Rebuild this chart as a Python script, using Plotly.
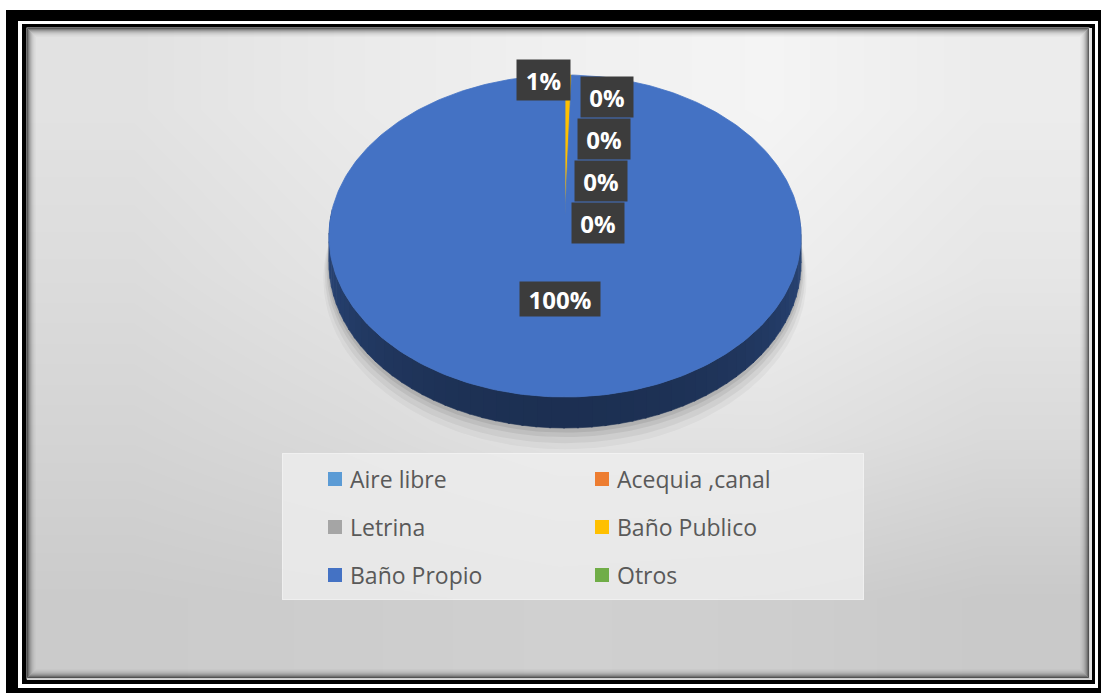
import math
import numpy as np
import plotly.graph_objects as go

# ---- data -------------------------------------------------------------
categories = ["Aire libre", "Acequia ,canal", "Letrina", "Baño Publico", "Baño Propio", "Otros"]
counts = [0, 0, 0, 1, 199, 0]
slice_colors = ["#5B9BD5", "#ED7D31", "#A5A5A5", "#FFC000", "#4472C4", "#70AD47"]

# ---- canvas / geometry --------------------------------------------------
W, H = 1101, 693
CX, CY = 565.0, 215.0          # apex of the pie on screen
RX, RY = 234.0, 158.26         # horizontal / vertical radius of the top face
K = 0.1304                     # perspective strength
DEPTH = 27.0                   # thickness of the disc


def proj(theta_deg, r=1.0, drop=0.0):
    t = np.radians(theta_deg)
    u = r * np.sin(t)
    v = r * np.cos(t)
    s = 1.0 / (1.0 + K * v)
    return CX + RX * u * s, CY - RY * v * s + drop * s


def shade(hex_color, f):
    h = hex_color.lstrip("#")
    r, g, b = (int(h[i:i + 2], 16) for i in (0, 2, 4))
    return f"rgb({int(r * f)},{int(g * f)},{int(b * f)})"


total = float(sum(counts))
pcts = [100.0 * c / total for c in counts]
labels = [f"{int(math.floor(p + 0.5))}%" for p in pcts]
spans = [360.0 * c / total for c in counts]
starts = np.concatenate([[0.0], np.cumsum(spans)[:-1]])

fig = go.Figure()

# ---- background gradient of the chart area ---------------------------
x_cells = [133, 346, 558, 770, 983]
y_cells = [109, 272, 435, 598]
gray = [
    [226, 234, 240, 244, 236],
    [220, 228, 236, 238, 230],
    [212, 218, 226, 226, 218],
    [203, 205, 208, 206, 201],
]
fig.add_trace(go.Heatmap(
    x=x_cells, y=y_cells, z=gray, zmin=0, zmax=255, zsmooth="best",
    colorscale=[[0, "rgb(0,0,0)"], [1, "rgb(255,255,255)"]],
    showscale=False, hoverinfo="skip",
))

# ---- soft shadow under the disc ----------------------------------------
ring = np.linspace(0, 360, 181)
for off, alpha in [(14, 0.035), (10, 0.05), (6, 0.065), (3, 0.08)]:
    sx, sy = proj(ring, 1.0 + off / 600.0, DEPTH + off)
    fig.add_trace(go.Scatter(
        x=sx, y=sy, mode="lines", fill="toself", line=dict(width=0),
        fillcolor=f"rgba(0,0,0,{alpha})", hoverinfo="skip", showlegend=False,
    ))

# ---- side wall of each slice (front half only) -------------------------
for a0, span, col in zip(starts, spans, slice_colors):
    if span <= 0:
        continue
    lo, hi = max(a0, 88.0), min(a0 + span, 272.0)
    if hi <= lo:
        continue
    edges = np.linspace(lo, hi, max(2, int((hi - lo) / 3) + 2))
    for e0, e1 in zip(edges[:-1], edges[1:]):
        seg = np.linspace(e0, e1 + 0.4 if e1 < hi else e1, 4)
        tx, ty = proj(seg)
        bx, by = proj(seg[::-1], 1.0, DEPTH)
        w = abs(math.cos(math.radians((e0 + e1) / 2)))
        c = shade(col, 0.64 - 0.22 * w)
        fig.add_trace(go.Scatter(
            x=np.concatenate([tx, bx]), y=np.concatenate([ty, by]),
            mode="lines", fill="toself", line=dict(width=0.6, color=c),
            fillcolor=c, hoverinfo="skip", showlegend=False,
        ))

# ---- top face ------------------------------------------------------------
for a0, span, col, name in zip(starts, spans, slice_colors, categories):
    if span <= 0:
        continue
    arc = np.linspace(a0, a0 + span, max(3, int(span) + 3))
    ax, ay = proj(arc)
    fig.add_trace(go.Scatter(
        x=np.concatenate([[CX], ax, [CX]]), y=np.concatenate([[CY], ay, [CY]]),
        mode="lines", fill="toself", line=dict(width=0.8, color=col),
        fillcolor=col, name=name, hoverinfo="skip", showlegend=False,
    ))

# ---- frame -----------------------------------------------------------------
shapes = []


def rect(x0, y0, x1, y1, fill, layer="below", line=None):
    d = dict(type="rect", xref="x", yref="y", x0=x0, y0=y0, x1=x1, y1=y1,
             layer=layer, fillcolor=fill, line=dict(width=0))
    if line is not None:
        d["line"] = line
        d["fillcolor"] = "rgba(0,0,0,0)"
    shapes.append(d)


rect(6, 10, 1101, 693, "#000000")
rect(18, 21, 1098, 688, "#ffffff")
rect(22, 24, 1095, 684, "#000000")
rect(27, 28, 1092, 680, "#e2e2e2")

# inner shading along the chart-area border
for i, a in enumerate([0.6, 0.45, 0.33, 0.24, 0.17, 0.11, 0.07, 0.04, 0.02]):
    rect(27.5 + i, 28.5 + i, 1088.5 - i, 677.5 - i, None, layer="above",
         line=dict(width=1, color=f"rgba(0,0,0,{a})"))

# ---- legend ------------------------------------------------------------------
rect(282, 453, 864, 600, "rgba(238,238,238,0.8)", layer="above")
rect(282.5, 453.5, 863.5, 599.5, None, layer="above",
     line=dict(width=1, color="rgba(255,255,255,0.35)"))

annotations = []
col_x = [328, 595]
row_y = [479, 527, 575]
for i, (name, col) in enumerate(zip(categories, slice_colors)):
    mx, my = col_x[i % 2], row_y[i // 2]
    shapes.append(dict(type="rect", xref="x", yref="y", x0=mx, x1=mx + 14,
                       y0=my - 7, y1=my + 7, fillcolor=col, line=dict(width=0),
                       layer="above"))
    annotations.append(dict(
        x=mx + 20, y=my, xref="x", yref="y", text=name, showarrow=False,
        xanchor="left", yanchor="middle",
        font=dict(family="Open Sans", size=23, color="#595959"),
    ))

# ---- data labels ---------------------------------------------------------------
box_font = dict(family="Open Sans", size=24, color="#ffffff", weight="bold")
box_bg = "#3c3c3c"
zero_idx = 0
top_x, top_y = proj(0.0)
for a0, span, txt in zip(starts, spans, labels):
    mid = a0 + span / 2
    if span <= 0:
        lx = float(top_x) + 42 - 3 * zero_idx
        ly = float(top_y) + 22 + 42 * zero_idx
        zero_idx += 1
        annotations.append(dict(x=lx, y=ly, xref="x", yref="y", text=txt,
                                showarrow=False, xanchor="center", yanchor="middle",
                                width=52, height=40, bgcolor=box_bg,
                                borderpad=0, font=box_font))
    elif span < 20:
        px, py = proj(mid, 0.95)
        annotations.append(dict(x=float(px) + 3, y=float(py) - 1, xref="x", yref="y",
                                text=txt, showarrow=False, xanchor="right",
                                yanchor="middle", width=53, height=40,
                                bgcolor=box_bg, borderpad=0, font=box_font))
    else:
        px, py = proj(mid, 0.5)
        annotations.append(dict(x=float(px) - 3, y=float(py) - 1, xref="x", yref="y",
                                text=txt, showarrow=False, xanchor="center",
                                yanchor="middle", width=80, height=34,
                                bgcolor=box_bg, borderpad=0, font=box_font))

fig.update_layout(
    width=W, height=H,
    margin=dict(l=0, r=0, t=0, b=0, pad=0),
    paper_bgcolor="#ffffff", plot_bgcolor="rgba(0,0,0,0)",
    xaxis=dict(range=[0, W], visible=False, fixedrange=True),
    yaxis=dict(range=[H, 0], visible=False, fixedrange=True),
    shapes=shapes, annotations=annotations, showlegend=False,
)

fig.write_html("out.html")
